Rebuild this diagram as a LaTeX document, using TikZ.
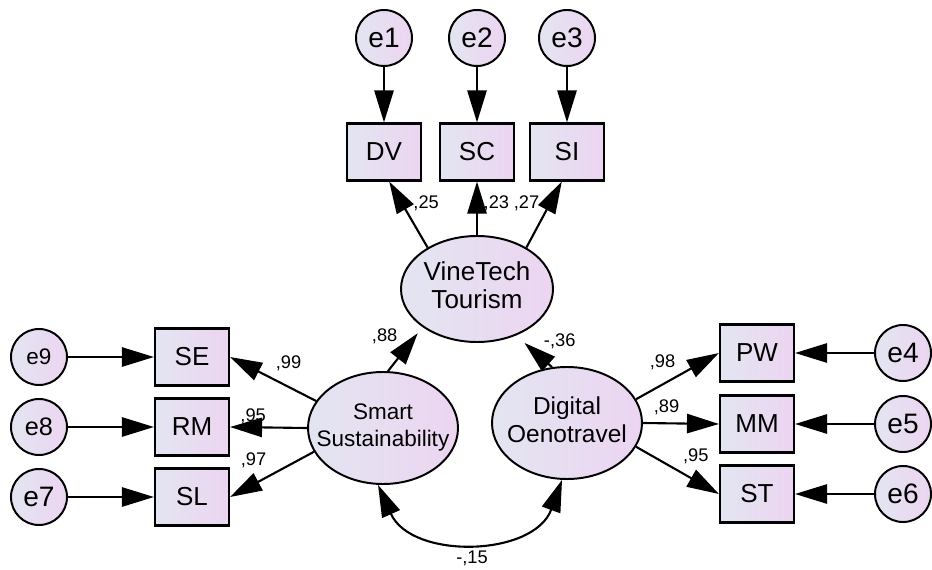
\documentclass[tikz,border=0pt]{standalone}
\usepackage{fontspec}
\setmainfont{Liberation Sans}
\usetikzlibrary{shapes.geometric,arrows.meta,positioning}
\definecolor{lavA}{HTML}{E3E5F1}
\definecolor{lavB}{HTML}{ECD5F1}
\newcommand{\latname}[1]{\makebox[0pt]{\begin{tabular}{@{}c@{}}#1\end{tabular}}}

\begin{document}
\begin{tikzpicture}[
  obs/.style={draw,rectangle,line width=1.5pt,left color=lavA,right color=lavB,minimum width=1.85cm,minimum height=1.425cm,inner sep=0pt,font=\fontsize{18.5}{20}\selectfont},
  err/.style={draw,circle,line width=1.4pt,left color=lavA,right color=lavB,minimum size=1.4cm,inner sep=0pt,font=\fontsize{20}{22}\selectfont},
  lat/.style={draw,ellipse,line width=1.4pt,left color=lavA,right color=lavB,minimum width=3.75cm,minimum height=2.8cm,inner sep=0pt},
  arr/.style={line width=1.5pt,-{Triangle[length=0.8cm,width=0.48cm]}},
  cov/.style={line width=1.5pt,{Triangle[length=0.8cm,width=0.48cm]}-{Triangle[length=0.8cm,width=0.48cm]}},
  coef/.style={font=\fontsize{13}{14}\selectfont,inner sep=2pt}
]
\useasboundingbox (0,0) rectangle (23.3,14.225);

\node (e1) [err] at (9.6,13.275) {e1};
\node (e2) [err] at (11.925,13.275) {e2};
\node (e3) [err] at (14.175,13.275) {e3};
\node (dv) [obs] at (9.6,10.425) {DV};
\node (sc) [obs] at (11.925,10.425) {SC};
\node (si) [obs] at (14.175,10.425) {SI};

\node (vt) [lat,minimum width=3.8cm,minimum height=2.65cm,font=\fontsize{18.5}{20}\selectfont] at (11.925,7.0) {\latname{VineTech\\Tourism}};
\node (ss) [lat,font=\fontsize{16}{19}\selectfont] at (9.575,3.525) {\latname{Smart\\Sustainability}};
\node (dot) [lat,font=\fontsize{17.4}{20}\selectfont] at (14.175,3.65) {\latname{Digital\\Oenotravel}};

\node (se) [obs] at (4.8,5.3) {SE};
\node (rm) [obs] at (4.8,3.55) {RM};
\node (sl) [obs] at (4.8,1.8) {SL};
\node (e9) [err,font=\fontsize{16}{18}\selectfont] at (0.975,5.3) {e9};
\node (e8) [err,font=\fontsize{18}{20}\selectfont] at (0.975,3.55) {e8};
\node (e7) [err] at (0.975,1.8) {e7};

\node (pw) [obs] at (18.925,5.4) {PW};
\node (mm) [obs] at (18.925,3.625) {MM};
\node (st) [obs] at (18.925,1.875) {ST};
\node (e4) [err] at (22.575,5.4) {e4};
\node (e5) [err] at (22.575,3.625) {e5};
\node (e6) [err] at (22.575,1.875) {e6};

\draw [arr] (e1) -- (dv);
\draw [arr] (e2) -- (sc);
\draw [arr] (e3) -- (si);
\draw [arr] (e9) -- (se);
\draw [arr] (e8) -- (rm);
\draw [arr] (e7) -- (sl);
\draw [arr] (e4) -- (pw);
\draw [arr] (e5) -- (mm);
\draw [arr] (e6) -- (st);

\draw [arr] (vt.140) -- node[coef,pos=.67,right=5.5pt] (c25) {,25} (dv.-80);
\draw [arr] (vt.north) -- node[coef,pos=.6,right=2pt] (c23) {,23} (sc.south);
\draw [arr] (vt.40) -- node[coef,pos=.67,left=5pt] (c27) {,27} (si.-100);
\draw [arr,shorten >=5.5pt] (ss.85) -- node[coef,pos=.79,left=10pt] (c88) {,88} (vt.215);
\draw [arr,shorten >=8pt] (dot.105) -- node[coef,pos=.45,above right=0pt and 3pt] (c36) {-,36} (vt.-50);

\draw [arr] (ss.158) -- node[coef,pos=.32,above=8.5pt] (c99) {,99} (se.east);
\draw [arr] (ss.west) -- node[coef,pos=.7,above=0pt] (c95a) {,95} (rm.east);
\draw [arr] (ss.199) -- node[coef,pos=.72,above=9pt] (c97) {,97} (sl.east);
\draw [arr] (dot.19) -- node[coef,pos=.32,above=7.5pt] (c98) {,98} (pw.west);
\draw [arr] (dot.east) -- node[coef,pos=.31,above=3pt] (c89) {,89} (mm.west);
\draw [arr] (dot.-19) -- node[coef,pos=.72,above=9.5pt] (c95b) {,95} (st.west);

\draw [cov] (ss.265) to[out=-66,in=-110,looseness=1.14] node[coef,below=5.5pt] (c15) {-,15} (dot.265);
\end{tikzpicture}
\end{document}
